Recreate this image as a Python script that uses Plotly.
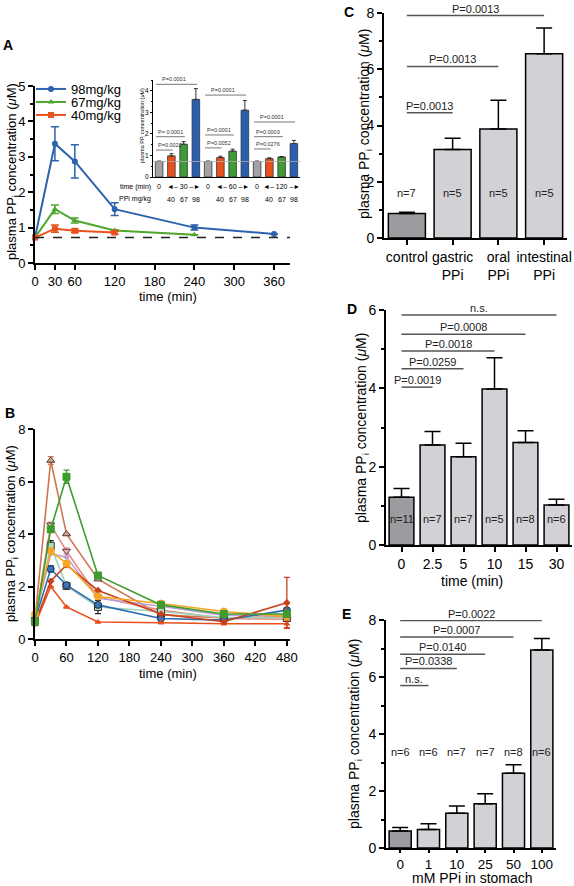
import plotly.graph_objects as go

W, H = 574, 886
FONT = "Arial, 'Liberation Sans', Helvetica, sans-serif"


def px(x):
    return x / W


def py(y):
    return 1 - y / H


# ---------------- DATA ----------------
# Panel A: plasma PPi after oral dose
a_t98 = [0, 30, 60, 120, 240, 360]
a_v98 = [0.72, 3.37, 2.87, 1.52, 1.00, 0.82]
a_e98 = [0.0, 0.48, 0.47, 0.18, 0.07, 0.0]
a_t67 = [0, 30, 60, 120, 240]
a_v67 = [0.72, 1.52, 1.20, 0.92, 0.80]
a_e67 = [0.0, 0.12, 0.07, 0.02, 0.0]
a_t40 = [0, 30, 60, 120]
a_v40 = [0.72, 0.97, 0.91, 0.86]
a_e40 = [0.0, 0.10, 0.05, 0.04]
a_baseline = 0.72
a_xticks = [0, 30, 60, 120, 180, 240, 300, 360]

# Panel A inset
in_dose = ["", "40", "67", "98", "", "40", "67", "98", "", "40", "67", "98"]
in_time = ["30", "60", "120"]
in_vals = [0.72, 0.98, 1.52, 3.60, 0.72, 0.90, 1.20, 3.10, 0.72, 0.85, 0.93, 1.55]
in_errs = [0.02, 0.10, 0.12, 0.50, 0.02, 0.06, 0.09, 0.45, 0.02, 0.04, 0.02, 0.15]
in_sig_from = [0, 0, 0, 4, 4, 4, 8, 8, 8]
in_sig_to = [3, 2, 1, 7, 6, 5, 11, 10, 9]
in_sig_y = [4.30, 1.87, 1.25, 3.80, 1.95, 1.35, 2.55, 1.87, 1.30]
in_sig_txt = ["P=0.0001", "P= 0.0001", "P=0.0022", "P=0.0001", "P=0.0001",
              "P=0.0052", "P=0.0001", "P=0.0003", "P=0.0276"]

# Panel B: individual time courses
b_time = [0, 30, 60, 120, 240, 360, 480]
b_tri_up = [0.75, 6.80, 4.00, 2.28, 0.92, 0.80, 0.85]
b_tri_up_err = [0, 0.15, 0, 0, 0, 0, 0]
b_green = [0.65, 4.18, 6.18, 2.42, 1.30, 0.95, 0.95]
b_green_err = [0, 0.12, 0.25, 0, 0, 0, 0]
b_tri_down = [0.70, 4.35, 3.35, 1.60, 1.10, 0.78, 0.75]
b_tri_down_err = [0, 0.10, 0.12, 0, 0, 0, 0]
b_purple = [0.80, 3.25, 3.12, 1.55, 1.25, 0.90, 0.90]
b_purple_err = [0, 0, 0, 0, 0, 0, 0]
b_orange = [0.95, 3.35, 2.88, 1.62, 1.35, 1.05, 0.86]
b_orange_err = [0, 0, 0, 0, 0, 0, 0]
b_teal = [0.70, 3.55, 2.02, 1.22, 1.05, 0.82, 0.80]
b_teal_err = [0, 0.20, 0, 0.25, 0.10, 0, 0.10]
b_blue = [0.72, 2.67, 2.05, 1.30, 0.78, 0.72, 1.10]
b_blue_err = [0, 0.12, 0, 0, 0, 0, 0]
b_darkred = [0.60, 2.20, 2.82, 1.85, 0.95, 0.66, 1.38]
b_darkred_err = [0, 0, 0, 0, 0, 0, 0.97]
b_redor = [0.55, 2.00, 1.22, 0.65, 0.62, 0.58, 0.58]
b_redor_err = [0, 0, 0, 0, 0, 0, 0.15]

# Panel C
c_cats = ["control", "gastric<br>PPi", "oral<br>PPi", "intestinal<br>PPi"]
c_vals = [0.87, 3.15, 3.88, 6.55]
c_errs = [0.05, 0.40, 1.02, 0.92]
c_n = ["n=7", "n=5", "n=5", "n=5"]
c_sig_to = [3, 2, 1]
c_sig_y = [7.91, 6.10, 4.45]
c_sig_txt = ["P=0.0013", "P=0.0013", "P=0.0013"]

# Panel D
d_cats = ["0", "2.5", "5", "10", "15", "30"]
d_vals = [1.22, 2.55, 2.25, 3.98, 2.62, 1.02]
d_errs = [0.22, 0.35, 0.35, 0.80, 0.30, 0.15]
d_n = ["n=11", "n=7", "n=7", "n=5", "n=8", "n=6"]
d_sig_to = [5, 4, 3, 2, 1]
d_sig_y = [5.87, 5.38, 4.95, 4.50, 4.03]
d_sig_txt = ["n.s.", "P=0.0008", "P=0.0018", "P=0.0259", "P=0.0019"]

# Panel E
e_cats = ["0", "1", "10", "25", "50", "100"]
e_vals = [0.60, 0.65, 1.22, 1.55, 2.62, 6.95]
e_errs = [0.12, 0.20, 0.25, 0.35, 0.30, 0.40]
e_n = ["n=6", "n=6", "n=7", "n=7", "n=8", "n=6"]
e_sig_to = [5, 4, 3, 2, 1]
e_sig_y = [7.98, 7.40, 6.80, 6.30, 5.70]
e_sig_txt = ["P=0.0022", "P=0.0007", "P=0.0140", "P=0.0338", "n.s."]

# ---------------- FIGURE ----------------
fig = go.Figure()

# Panel A lines (each in its own legend box so rows can sit tightly)
for t, v, e, name, col, sym, lg in [
    (a_t98, a_v98, a_e98, "98mg/kg", "#2d62ae", "circle", "legend"),
    (a_t67, a_v67, a_e67, "67mg/kg", "#4ea62d", "triangle-up", "legend2"),
    (a_t40, a_v40, a_e40, "40mg/kg", "#e8521f", "square", "legend3"),
]:
    fig.add_trace(go.Scatter(
        x=t, y=v, mode="lines+markers", name=name, legend=lg,
        line=dict(color=col, width=2),
        marker=dict(symbol=sym, size=6, color=col),
        error_y=dict(type="data", array=e, color=col, thickness=1.5, width=4),
        cliponaxis=False, xaxis="x", yaxis="y"))

# Inset bars
in_colors = ["#a3a3a5", "#e8501e", "#3f9b35", "#2a5fb0"] * 3
fig.add_trace(go.Bar(
    x=list(range(len(in_vals))), y=in_vals, width=0.62,
    marker=dict(color=in_colors, line=dict(color="#333333", width=0.8)),
    error_y=dict(type="data", array=in_errs, arrayminus=[0] * len(in_errs),
                 symmetric=False, color="#333333", thickness=1, width=2),
    xaxis="x2", yaxis="y2", showlegend=False))

# Panel B lines
b_specs = [
    (b_tri_up, b_tri_up_err, "#cf7650", "triangle-up", "#d9a590", "#4a3a30", 7),
    (b_tri_down, b_tri_down_err, "#ec8a86", "triangle-down", "#f2b8b8", "#4a3a3a", 7),
    (b_purple, b_purple_err, "#baa1d2", "circle", "#baa1d2", "#baa1d2", 4),
    (b_teal, b_teal_err, "#9fd3b6", "square", "#b5dcc5", "#333333", 7),
    (b_blue, b_blue_err, "#2e6db4", "circle", "#3a74bb", "#1a2a40", 7),
    (b_redor, b_redor_err, "#e8501f", "triangle-up", "#e8501f", "#e8501f", 5),
    (b_darkred, b_darkred_err, "#c6421d", "diamond", "#c6421d", "#c6421d", 5),
    (b_orange, b_orange_err, "#f6a623", "circle", "#f6a623", "#f6a623", 7),
    (b_green, b_green_err, "#3d9b2f", "square", "#3d9b2f", "#3d9b2f", 7),
]
for vals, errs, lc, sym, fc, oc, sz in b_specs:
    ecol = "#222222" if lc == "#9fd3b6" else lc
    fig.add_trace(go.Scatter(
        x=b_time, y=vals, mode="lines+markers", showlegend=False,
        line=dict(color=lc, width=1.6),
        marker=dict(symbol=sym, size=sz, color=fc, line=dict(color=oc, width=1)),
        error_y=dict(type="data", array=errs, color=ecol, thickness=1.3, width=3),
        cliponaxis=False, xaxis="x3", yaxis="y3"))


# Panels C, D, E bars
def bar_panel(cats, vals, errs, xa, ya, width):
    cols = ["#9c9ca0"] + ["#d1d1d6"] * (len(cats) - 1)
    fig.add_trace(go.Bar(
        x=cats, y=vals, width=width,
        marker=dict(color=cols, line=dict(color="black", width=1.5)),
        error_y=dict(type="data", array=errs, arrayminus=[0] * len(errs),
                     symmetric=False, color="black", thickness=1.5, width=8),
        xaxis=xa, yaxis=ya, showlegend=False))


bar_panel(c_cats, c_vals, c_errs, "x4", "y4", 0.81)
bar_panel(d_cats, d_vals, d_errs, "x5", "y5", 0.80)
bar_panel(e_cats, e_vals, e_errs, "x6", "y6", 0.78)


# ---------------- AXES ----------------
def ax(size=13, **kw):
    d = dict(showline=True, linecolor="black", linewidth=2, ticks="outside",
             ticklen=5, tickwidth=2, tickcolor="black", showgrid=False,
             zeroline=False, automargin=False,
             tickfont=dict(size=size, color="black", family=FONT))
    d.update(kw)
    return d


minor = dict(dtick=1, ticks="outside", ticklen=3, tickwidth=1.5, tickcolor="black")
minor_half = dict(dtick=0.5, ticks="outside", ticklen=3, tickwidth=1.5, tickcolor="black")


def leg(y):
    return dict(x=px(31), y=py(y), xanchor="left", yanchor="middle",
                font=dict(size=13, family=FONT), bgcolor="rgba(0,0,0,0)",
                itemwidth=30, borderwidth=0)


fig.update_layout(
    width=W, height=H, margin=dict(l=0, r=0, t=0, b=0, pad=0, autoexpand=False),
    paper_bgcolor="white", plot_bgcolor="rgba(0,0,0,0)",
    font=dict(family=FONT, color="black"),
    barmode="overlay",
    legend=leg(89), legend2=leg(102), legend3=leg(115),
    xaxis=ax(13, domain=[px(35), px(290)], range=[0, 384], tickvals=a_xticks, anchor="y"),
    yaxis=ax(13, domain=[py(263), py(86)], range=[0, 5], dtick=1, anchor="x", minor=minor_half),
    xaxis2=ax(6, domain=[px(153), px(300)], range=[-0.5, 11.5], showticklabels=False,
              ticks="", linewidth=1, anchor="y2"),
    yaxis2=ax(6.5, domain=[py(177), py(80)], range=[0, 4.5], tickvals=[0, 1, 2, 3, 4],
              ticklen=2, tickwidth=1, linewidth=1, anchor="x2",
              minor=dict(dtick=0.5, ticks="outside", ticklen=1.5, tickwidth=0.8, tickcolor="black")),
    xaxis3=ax(13, domain=[px(35), px(290)], range=[0, 486], dtick=60, anchor="y3"),
    yaxis3=ax(13, domain=[py(639), py(429)], range=[0, 8], dtick=2, anchor="x3"),
    xaxis4=ax(14, domain=[px(384), px(567)], type="category", range=[-0.5, 3.5], anchor="y4"),
    yaxis4=ax(14, domain=[py(238), py(13)], range=[0, 8], dtick=2, anchor="x4", minor=minor),
    xaxis5=ax(14, domain=[px(386), px(572)], type="category", range=[-0.5, 5.5], anchor="y5"),
    yaxis5=ax(14, domain=[py(545), py(310)], range=[0, 6], dtick=2, anchor="x5", minor=minor),
    xaxis6=ax(13.5, domain=[px(386), px(556)], type="category", range=[-0.5, 5.5], anchor="y6",
              ticklen=3),
    yaxis6=ax(14, domain=[py(848), py(620)], range=[0, 8], dtick=2, anchor="x6", minor=minor),
)

shapes = []
ann = []


def note(x, y, text, size, xanchor="center", yanchor="middle", angle=0, color="black"):
    ann.append(dict(xref="paper", yref="paper", x=px(x), y=py(y), text=text, showarrow=False,
                    xanchor=xanchor, yanchor=yanchor, textangle=angle,
                    font=dict(size=size, color=color)))


# baseline dashed line in A and inset
shapes.append(dict(type="line", xref="x domain", yref="y", x0=0, x1=1, y0=a_baseline,
                   y1=a_baseline, line=dict(color="#222222", width=1.5, dash="dash")))
shapes.append(dict(type="line", xref="x2 domain", yref="y2", x0=0, x1=1, y0=a_baseline,
                   y1=a_baseline, line=dict(color="#b0b0b0", width=0.8)))

# inset significance
for f, t, yv, txt in zip(in_sig_from, in_sig_to, in_sig_y, in_sig_txt):
    shapes.append(dict(type="line", xref="x2", yref="y2", x0=f - 0.25, x1=t + 0.1, y0=yv, y1=yv,
                       line=dict(color="#777777", width=1)))
    if t - f >= 3:
        ann.append(dict(xref="x2", yref="y2", x=(f + t) / 2 - 0.3, y=yv, text=txt, showarrow=False,
                        xanchor="center", yanchor="bottom", font=dict(size=5.5, color="#333333")))
    else:
        ann.append(dict(xref="x2", yref="y2", x=f - 0.25, y=yv, text=txt, showarrow=False,
                        xanchor="left", yanchor="bottom", font=dict(size=5.5, color="#333333")))

# inset lower labels
for i, d in enumerate(in_dose):
    if d:
        ann.append(dict(xref="x2", yref="paper", x=i, y=py(199), text=d, showarrow=False,
                        xanchor="center", yanchor="middle", font=dict(size=7)))
for g, tlab in enumerate(in_time):
    ann.append(dict(xref="x2", yref="paper", x=g * 4, y=py(187), text="0", showarrow=False,
                    xanchor="center", yanchor="middle", font=dict(size=7)))
    ann.append(dict(xref="x2", yref="paper", x=g * 4 + 2, y=py(187),
                    text="\u25c4\u2013 " + tlab + " \u2013\u25ba", showarrow=False,
                    xanchor="center", yanchor="middle", font=dict(size=7)))
note(153, 187, "time (min)", 7, xanchor="right")
note(153, 199, "PPi mg/kg", 7, xanchor="right")
note(142, 126, "plasma PP<sub>i</sub> concentration (<i>\u03bc</i>M)", 5.5, angle=-90)


def sig_panel(tos, ys, txts, xa, ya):
    for t, yv, txt in zip(tos, ys, txts):
        shapes.append(dict(type="line", xref=xa, yref=ya, x0=0, x1=t, y0=yv, y1=yv,
                           line=dict(color="#555555", width=1.5)))
        ann.append(dict(xref=xa, yref=ya, x=t / 2, y=yv, text=txt, showarrow=False,
                        xanchor="center", yanchor="bottom", yshift=-1,
                        font=dict(size=11, color="#222222")))


def n_labels(ns, yv, xa, ya):
    for i, n in enumerate(ns):
        ann.append(dict(xref=xa, yref=ya, x=i, y=yv, text=n, showarrow=False,
                        xanchor="center", yanchor="middle",
                        font=dict(size=11, color="#222222")))


sig_panel(c_sig_to, c_sig_y, c_sig_txt, "x4", "y4")
sig_panel(d_sig_to, d_sig_y, d_sig_txt, "x5", "y5")
sig_panel(e_sig_to, e_sig_y, e_sig_txt, "x6", "y6")
n_labels(c_n, 1.61, "x4", "y4")
n_labels(d_n, 0.66, "x5", "y5")
n_labels(e_n, 3.38, "x6", "y6")

ytitle = "plasma PP<sub>i</sub> concentration (<i>\u03bc</i>M)"
for xx, yy, sz in [(12, 172, 13), (11, 534, 13), (365, 124, 14), (362, 428, 14), (355, 734, 14)]:
    note(xx, yy, ytitle, sz, angle=-90)

for xx, yy, txt, sz in [(168, 296, "time (min)", 13), (168, 673, "time (min)", 13),
                        (472, 581, "time (min)", 14), (472, 878, "mM PPi in stomach", 14)]:
    note(xx, yy, txt, sz)

for xx, yy, txt in [(8, 45, "A"), (10, 413, "B"), (349, 12, "C"), (352, 309, "D"), (346, 614, "E")]:
    note(xx, yy, "<b>" + txt + "</b>", 14)

fig.update_layout(shapes=shapes, annotations=ann)
fig.write_html("out.html", config={"displayModeBar": False},
               post_script="document.body.style.margin='0px';document.body.style.overflow='hidden';")
